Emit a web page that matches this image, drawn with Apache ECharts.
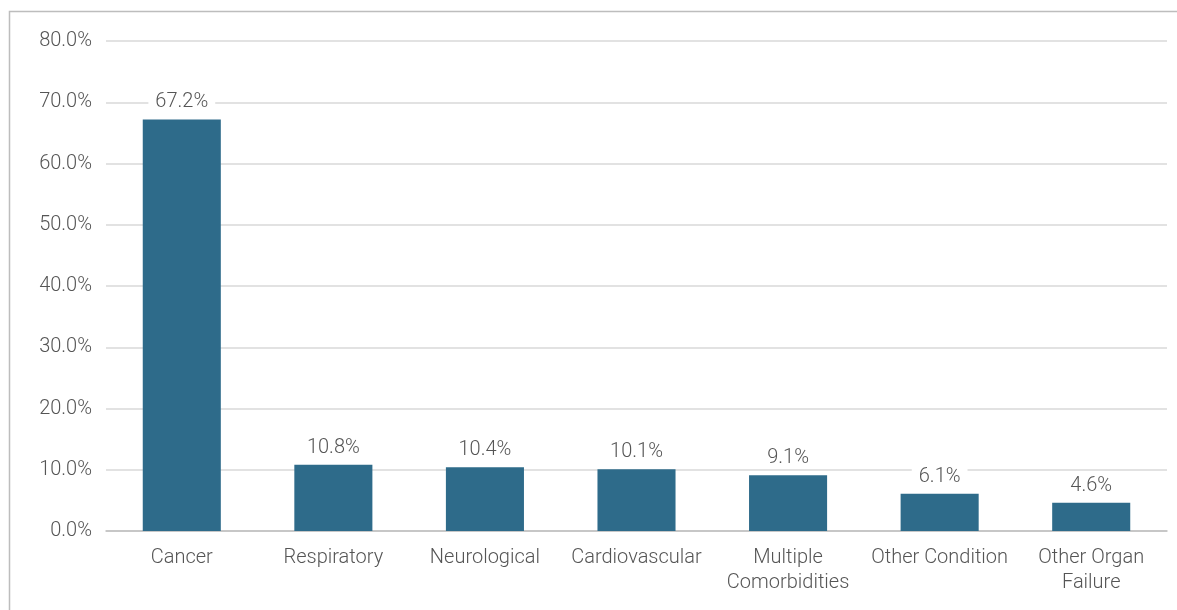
<!DOCTYPE html>
<html><head><meta charset="utf-8">
<script src="https://cdn.jsdelivr.net/npm/echarts@6/dist/echarts.min.js"></script>
<style>html,body{margin:0;padding:0;background:#fff}#c{width:1177px;height:610px}</style>
</head><body><div id="c"></div>
<script>
const categories = ['Cancer','Respiratory','Neurological','Cardiovascular','Multiple\nComorbidities','Other Condition','Other Organ\nFailure'];
const values = [67.2, 10.8, 10.4, 10.1, 9.1, 6.1, 4.6];
const yTicks = [0, 10, 20, 30, 40, 50, 60, 70, 80];

const FONT = 'Roboto';
const chart = echarts.init(document.getElementById('c'));
chart.setOption({
  animation: false,
  graphic: [{
    type: 'rect', shape: {x: 9.5, y: 11.5, width: 1300, height: 700},
    style: {fill: null, stroke: '#bdbdbd', lineWidth: 1.5}, silent: true
  }],
  grid: {left: 106, right: 10, top: 41, bottom: 79},
  xAxis: {
    type: 'category', data: categories,
    axisLine: {lineStyle: {color: '#bfbfbf', width: 1.5}},
    axisTick: {show: false},
    axisLabel: {color: '#555555', fontFamily: FONT, fontWeight: 300, fontSize: 20, lineHeight: 25, margin: 14, interval: 0}
  },
  yAxis: {
    type: 'value', min: yTicks[0], max: yTicks[yTicks.length-1], interval: 10,
    axisLine: {show: false}, axisTick: {show: false},
    splitLine: {lineStyle: {color: '#d9d9d9', width: 1.5}},
    axisLabel: {color: '#555555', fontFamily: FONT, fontWeight: 300, fontSize: 20, margin: 14,
      formatter: v => v.toFixed(1) + '%'}
  },
  series: [{
    type: 'bar', data: values, barWidth: '51.5%',
    itemStyle: {color: '#2e6b8a'},
    label: {show: true, position: 'top', distance: 7, color: '#555555', fontFamily: FONT, fontWeight: 300, fontSize: 20,
      backgroundColor: '#fff', padding: [0, 7],
      formatter: p => p.value.toFixed(1) + '%'}
  }]
});
</script></body></html>
